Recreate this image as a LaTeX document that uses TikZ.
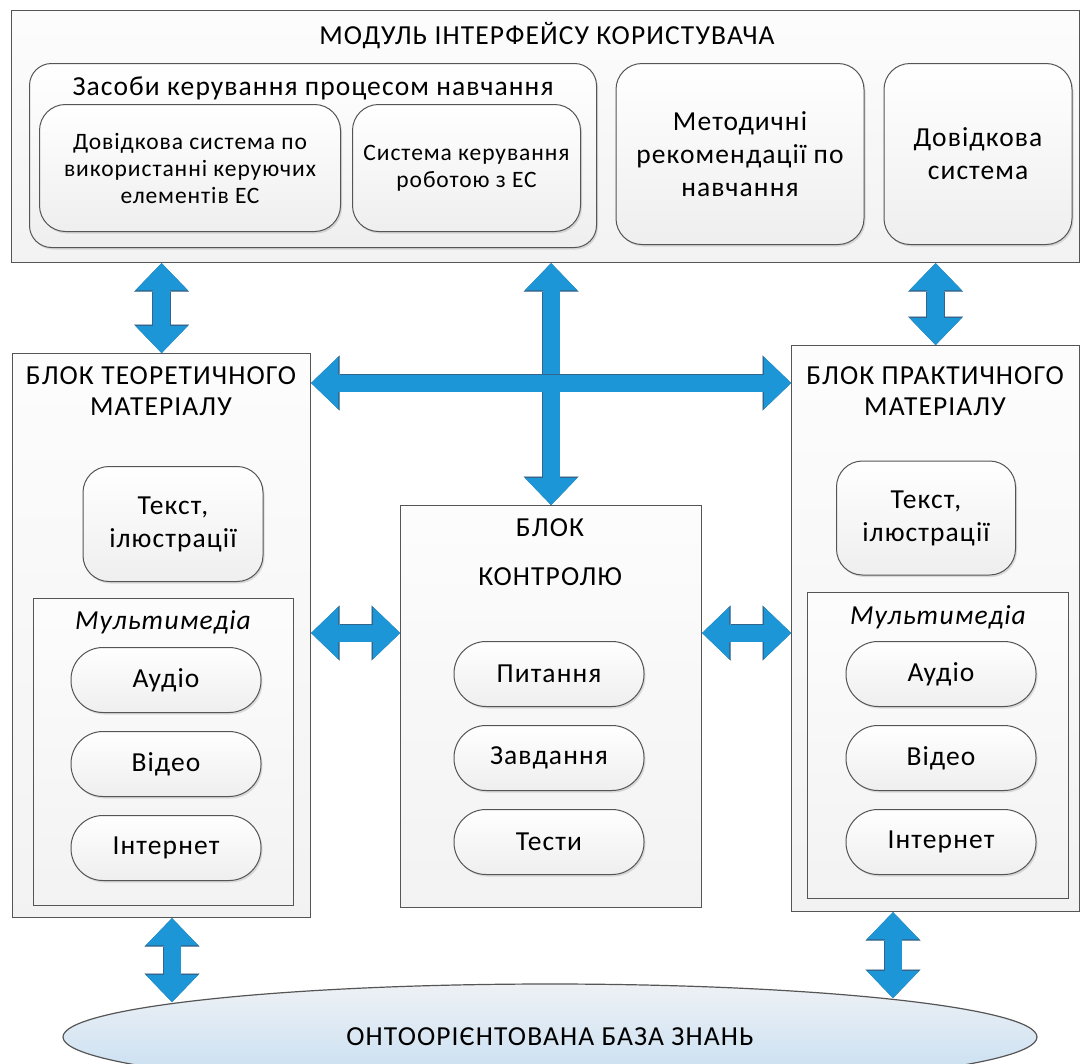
\documentclass[tikz,border=0pt]{standalone}
\usepackage{fontspec}
\setmainfont{Carlito}[LetterSpace=4]
\usetikzlibrary{positioning,shapes.geometric,arrows.meta,shadows}

\definecolor{arrowblue}{RGB}{28,150,214}
\definecolor{arrowedge}{RGB}{50,100,140}
\definecolor{boxline}{RGB}{85,85,85}
\definecolor{basetop}{RGB}{238,241,245}
\definecolor{basebot}{RGB}{196,221,241}

\tikzset{
  panel/.style={draw=boxline, line width=1.2pt, top color=gray!2, bottom color=gray!10,
    anchor=north west, inner sep=0pt},
  soft/.style={draw=boxline, line width=1pt, rounded corners=26pt, top color=white,
    bottom color=gray!13, align=center, font=\fontsize{27.5}{33}\selectfont,
    drop shadow={shadow xshift=1.5pt, shadow yshift=-2pt, opacity=.25}},
  pill/.style={soft, rounded corners=32pt, minimum width=190pt, minimum height=65pt},
  caption/.style={align=center, font=\fontsize{27.5}{31}\selectfont},
  bluetip/.tip={Triangle[width=52pt,length=27pt,line width=0.1pt]},
  edgetip/.tip={Triangle[width=55pt,length=28.5pt,line width=0.1pt]},
  bigarrow/.style={draw=arrowblue, line width=17pt, arrows={bluetip-bluetip},
    preaction={draw=arrowedge, line width=18.6pt, arrows={edgetip-edgetip}}}
}

\begin{document}
\begin{tikzpicture}[x=1pt,y=-1pt]
  \useasboundingbox (0,0) rectangle (1081,1063);

  % interface module
  \node[panel, minimum width=1068pt, minimum height=252pt] (modul) at (11,10) {};
  \node[caption] (modult) at (547,36) {МОДУЛЬ ІНТЕРФЕЙСУ КОРИСТУВАЧА};
  \node[soft, rounded corners=22pt, minimum width=567pt, minimum height=184pt,
    anchor=north west] (zasoby) at (29,63) {};
  \node[caption] (zasobyt) at (313,88) {Засоби керування процесом навчання};
  \node[soft, minimum width=301pt, minimum height=127pt, font=\fontsize{23.5}{27}\selectfont]
    (dovel) at (190,168) {Довідкова система по\\використанні керуючих\\елементів ЕС};
  \node[soft, minimum width=228pt, minimum height=127pt, font=\fontsize{23.5}{27}\selectfont]
    (sysker) [right=11pt of dovel] {Система керування\\роботою з ЕС};
  \node[soft, minimum width=248pt, minimum height=181pt] (metod) at (740,154) {Методичні\\рекомендації по\\навчання};
  \node[soft, minimum width=188pt, minimum height=181pt] (dovsys) [right=19pt of metod] {Довідкова\\система};

  % theory block
  \node[panel, minimum width=298pt, minimum height=564pt] (teor) at (12,353) {};
  \node[caption] (teort) at (161,391) {БЛОК ТЕОРЕТИЧНОГО\\МАТЕРІАЛУ};
  \node[soft, minimum width=180pt, minimum height=115pt] (teortxt) at (173,524) {Текст,\\ілюстрації};
  \node[panel, minimum width=260pt, minimum height=307pt] (teormm) at (33,598) {};
  \node[caption, font=\fontsize{27.5}{31}\selectfont\itshape] (teormmt) at (163,622) {Мультимедіа};
  \node[pill] (teoraud) at (166,680) {Аудіо};
  \node[pill] (teorvid) [below=18pt of teoraud] {Відео};
  \node[pill] (teorint) [below=18pt of teorvid] {Інтернет};

  % control block
  \node[panel, minimum width=301pt, minimum height=402pt] (kontrol) at (400,505) {};
  \node[caption] (kontrolt) at (550,528) {БЛОК};
  \node[caption] (kontrolt2) at (550,577) {КОНТРОЛЮ};
  \node[pill] (pyt) at (549,674) {Питання};
  \node[pill] (zavd) [below=18pt of pyt] {Завдання};
  \node[pill] (test) [below=18pt of zavd] {Тести};

  % practice block
  \node[panel, minimum width=288pt, minimum height=566pt] (prakt) at (791,345) {};
  \node[caption] (praktt) at (935,391) {БЛОК ПРАКТИЧНОГО\\МАТЕРІАЛУ};
  \node[soft, minimum width=179pt, minimum height=114pt] (prakttxt) at (926,518) {Текст,\\ілюстрації};
  \node[panel, minimum width=261pt, minimum height=306pt] (praktmm) at (807,592) {};
  \node[caption, font=\fontsize{27.5}{31}\selectfont\itshape] (praktmmt) at (938,617) {Мультимедіа};
  \node[pill] (praktaud) at (941,674) {Аудіо};
  \node[pill] (praktvid) [below=18pt of praktaud] {Відео};
  \node[pill] (praktint) [below=18pt of praktvid] {Інтернет};

  % knowledge base
  \node[ellipse, draw=boxline, line width=1.2pt, top color=basetop, bottom color=basebot,
    minimum width=974pt, minimum height=106pt, caption] (base) at (550,1037) {ОНТООРІЄНТОВАНА БАЗА ЗНАНЬ};
  \coordinate (baseL) at (172,1002);
  \coordinate (baseR) at (893,998);

  % links
  \draw[bigarrow] (teor.north |- modul.south) -- (teor.north);
  \draw[bigarrow] (prakt.north |- modul.south) -- (prakt.north);
  \draw[bigarrow] (kontrol.north |- modul.south) -- (kontrol.north);
  \draw[bigarrow] ([yshift=-30pt]teor.north east) -- ([yshift=-30pt]teor.north east -| prakt.west);
  \draw[bigarrow] ([yshift=-128pt]kontrol.north west -| teor.east) -- ([yshift=-128pt]kontrol.north west);
  \draw[bigarrow] ([yshift=-128pt]kontrol.north east) -- ([yshift=-128pt]kontrol.north east -| prakt.west);
  \draw[bigarrow] (teor.south -| baseL) -- (baseL);
  \draw[bigarrow] (prakt.south -| baseR) -- (baseR);
\end{tikzpicture}
\end{document}
